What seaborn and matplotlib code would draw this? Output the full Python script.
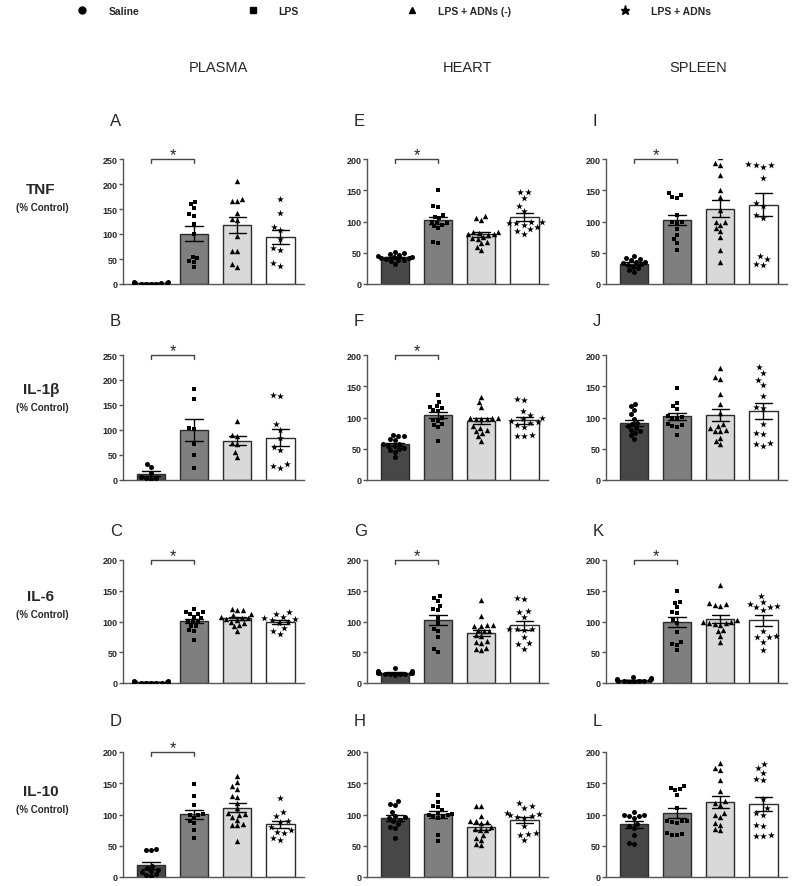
import warnings
import numpy as np
import pandas as pd
import matplotlib.pyplot as plt
from matplotlib.lines import Line2D
import seaborn as sns

warnings.filterwarnings('ignore')

groups = ['Saline', 'LPS', 'LPS + ADNs (-)', 'LPS + ADNs']
markers = ['o', 's', '^', '*']
marker_size = [3.6, 3.4, 3.9, 5.2]
bar_colors = ['#474747', '#7f7f7f', '#d9d9d9', '#ffffff']

tissues = ['PLASMA', 'HEART', 'SPLEEN']
cytokines = ['TNF', 'IL-1β', 'IL-6', 'IL-10']
letters = [['A', 'E', 'I'], ['B', 'F', 'J'], ['C', 'G', 'K'], ['D', 'H', 'L']]
y_max = [[250, 200, 200], [250, 200, 200], [200, 200, 200], [200, 200, 200]]
signif = [[True, True, True], [True, True, False], [True, True, True], [True, False, False]]

# % control per animal: [saline, lps, lps + adns(-), lps + adns]
tnf_plasma = [
    [5, 4, 3, 3, 2, 2, 1, 1, 0.5, 0.5],
    [165, 160, 153, 140, 137, 120, 100, 55, 52, 46, 45, 35],
    [207, 170, 167, 166, 142, 130, 128, 97, 67, 66, 40, 35],
    [170, 143, 115, 108, 90, 72, 68, 42, 37],
]
tnf_heart = [
    [51, 50, 48, 46, 45, 44, 43, 42, 41, 40, 39, 38, 37, 32],
    [150, 125, 123, 110, 108, 105, 100, 98, 97, 95, 93, 90, 67, 65],
    [109, 105, 103, 84, 82, 80, 84, 80, 78, 76, 74, 72, 68, 65, 60, 55],
    [148, 147, 137, 125, 117, 100, 99, 98, 97, 95, 92, 88, 85, 80],
]
tnf_spleen = [
    [45, 42, 40, 38, 36, 35, 33, 32, 30, 28, 25, 22, 20],
    [145, 142, 140, 138, 110, 100, 100, 98, 88, 78, 72, 66, 55],
    [203, 193, 190, 175, 150, 140, 118, 100, 100, 95, 90, 85, 75, 55, 35],
    [226, 192, 190, 190, 188, 170, 130, 125, 110, 105, 45, 40, 32, 30],
]
il1b_plasma = [
    [32, 26, 15, 6, 4, 5, 3],
    [183, 163, 105, 103, 73, 50, 25],
    [119, 91, 88, 75, 72, 57, 47],
    [170, 168, 112, 100, 85, 67, 60, 32, 28, 25],
]
il1b_heart = [
    [72, 71, 70, 66, 64, 58, 57, 55, 54, 52, 50, 48, 45, 37],
    [136, 125, 118, 117, 115, 112, 110, 100, 96, 95, 90, 88, 85, 63],
    [133, 125, 117, 100, 100, 99, 98, 98, 97, 86, 83, 80, 78, 75, 70, 63],
    [129, 128, 111, 104, 100, 97, 95, 93, 92, 88, 85, 72, 71, 70],
]
il1b_spleen = [
    [122, 118, 112, 105, 98, 92, 90, 86, 84, 80, 78, 75, 72, 66],
    [148, 124, 118, 113, 103, 101, 100, 99, 90, 88, 86, 85, 72],
    [179, 165, 162, 138, 122, 108, 90, 86, 84, 80, 79, 78, 68, 63, 58],
    [181, 172, 160, 152, 134, 117, 115, 90, 75, 73, 60, 58, 54],
]
il6_plasma = [
    [4, 3, 2, 2, 1, 1, 1, 0.5, 0.5, 0.5, 0.5, 0.5],
    [121, 116, 115, 113, 112, 108, 105, 101, 100, 99, 93, 92, 86, 85, 70],
    [120, 119, 118, 112, 110, 108, 106, 105, 104, 103, 100, 98, 95, 92, 85],
    [115, 112, 108, 105, 104, 102, 100, 98, 90, 85, 80],
]
il6_heart = [
    [24, 20, 19, 18, 18, 17, 17, 16, 16, 15, 15, 14, 14, 13],
    [141, 139, 134, 125, 120, 118, 105, 97, 88, 84, 74, 56, 51],
    [135, 109, 95, 94, 93, 92, 86, 85, 84, 78, 76, 68, 66, 65, 57, 55, 53],
    [138, 136, 117, 115, 107, 88, 87, 87, 86, 74, 65, 63, 56],
]
il6_spleen = [
    [10, 8, 7, 6, 5, 5, 4, 4, 3, 3, 2, 2],
    [149, 132, 130, 123, 116, 114, 102, 97, 83, 66, 64, 62, 53],
    [159, 130, 128, 126, 127, 102, 100, 99, 98, 97, 96, 95, 86, 84, 76, 66],
    [142, 131, 129, 125, 124, 123, 118, 85, 76, 75, 74, 67, 53],
]
il10_plasma = [
    [45, 44, 43, 18, 15, 12, 10, 8, 5, 3, 2],
    [149, 130, 116, 101, 100, 99, 95, 90, 87, 76, 62],
    [162, 152, 145, 141, 129, 128, 119, 110, 102, 101, 100, 96, 92, 85, 84, 83, 58],
    [127, 104, 98, 90, 88, 80, 75, 72, 70, 62, 60],
]
il10_heart = [
    [121, 117, 115, 104, 98, 96, 94, 92, 90, 85, 80, 78, 62],
    [132, 120, 114, 112, 108, 103, 101, 100, 99, 98, 97, 95, 67, 58],
    [114, 113, 98, 90, 89, 88, 86, 80, 77, 76, 75, 68, 62, 60, 53, 51],
    [119, 113, 111, 102, 101, 100, 97, 96, 95, 82, 70, 69, 68, 59],
]
il10_spleen = [
    [104, 100, 99, 98, 97, 95, 85, 81, 78, 67, 54, 53],
    [145, 143, 141, 139, 132, 110, 90, 90, 89, 88, 87, 70, 69, 68, 67],
    [183, 175, 171, 156, 137, 121, 119, 116, 102, 100, 96, 86, 84, 77, 75],
    [181, 175, 167, 157, 155, 125, 110, 102, 100, 83, 81, 67, 66, 65],
]

panels = [
    [tnf_plasma, tnf_heart, tnf_spleen],
    [il1b_plasma, il1b_heart, il1b_spleen],
    [il6_plasma, il6_heart, il6_spleen],
    [il10_plasma, il10_heart, il10_spleen],
]

sns.set_style('ticks')
plt.rcParams['font.family'] = ['Liberation Sans', 'DejaVu Sans']

W, H = 800, 887
fig = plt.figure(figsize=(W / 100, H / 100), dpi=100)

col_x = [123, 367, 606]
ax_w = 181
row_top = [160, 356, 561, 753]
row_bot = [285, 481, 684, 878]
letter_y = [122, 322, 532, 722]
label_y = [190, 390, 597, 792]
title_x = [218, 467, 698]

for r in range(4):
    for c in range(3):
        ax = fig.add_axes([col_x[c] / W, 1 - row_bot[r] / H,
                           ax_w / W, (row_bot[r] - row_top[r]) / H])
        vals = panels[r][c]
        df = pd.DataFrame({
            'group': np.repeat(groups, [len(v) for v in vals]),
            'value': np.concatenate(vals),
        })
        sns.barplot(data=df, x='group', y='value', hue='group', order=groups,
                    hue_order=groups, palette=bar_colors, legend=False,
                    width=0.66, edgecolor='#2b2b2b', linewidth=1,
                    errorbar='se', capsize=0.4,
                    err_kws={'color': 'black', 'linewidth': 1}, ax=ax)
        for g, m, s in zip(groups, markers, marker_size):
            sns.swarmplot(data=df[df['group'] == g], x='group', y='value',
                          order=groups, color='black', marker=m, size=s,
                          ax=ax)
        top = y_max[r][c]
        ax.set_xlim(-0.65, 3.55)
        ax.set_ylim(0, top)
        ax.set_yticks(np.arange(0, top + 1, 50))
        ax.set_xticks([])
        ax.set_xlabel('')
        ax.set_ylabel('')
        sns.despine(ax=ax)
        for side in ['left', 'bottom']:
            ax.spines[side].set_color('#555555')
            ax.spines[side].set_linewidth(1)
        ax.tick_params(axis='y', length=3, width=1, color='#555555',
                       labelsize=6.5, pad=1)
        for lab in ax.get_yticklabels():
            lab.set_fontweight('bold')

        if signif[r][c]:
            tick = top * 0.03
            ax.plot([0, 0, 1, 1], [top - tick, top, top, top - tick],
                    color='#444444', lw=1, clip_on=False)
            ax.annotate('*', (0.5, top), xytext=(0, 0),
                        textcoords='offset points', ha='center',
                        va='baseline', fontsize=12, annotation_clip=False)

        fig.text((col_x[c] - 13) / W, 1 - letter_y[r] / H, letters[r][c],
                 ha='left', va='center', fontsize=12)

for r, name in enumerate(cytokines):
    fig.text(41 / W, 1 - label_y[r] / H, name, ha='center', va='center',
             fontsize=11, fontweight='bold')
    fig.text(42 / W, 1 - (label_y[r] + 18) / H, '(% Control)', ha='center',
             va='center', fontsize=7, fontweight='bold')

for c, name in enumerate(tissues):
    fig.text(title_x[c] / W, 1 - 68 / H, name, ha='center', va='center',
             fontsize=10.5)

handles = [Line2D([], [], marker=m, color='black', linestyle='None',
                  markersize=5 if m != '*' else 6.5) for m in markers]
fig.legend(handles, groups, ncol=4, loc='center left',
           bbox_to_anchor=(77 / W, 1 - 12 / H), frameon=False,
           handlelength=1, handletextpad=2.0, columnspacing=10.4,
           borderpad=0, borderaxespad=0,
           prop={'weight': 'bold', 'size': 7.5})

fig.savefig('out.png', dpi=100)
